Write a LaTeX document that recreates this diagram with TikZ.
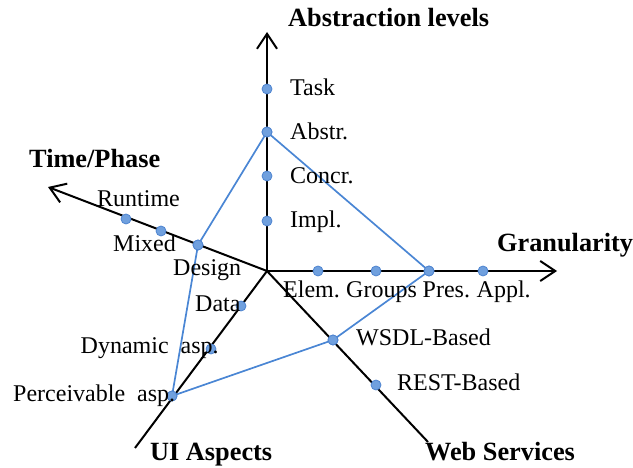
\documentclass[tikz,border=0pt]{standalone}
\usepackage{fontspec}
\setmainfont{Liberation Serif}
\usetikzlibrary{arrows.meta}
\definecolor{dotfill}{RGB}{112,160,222}
\definecolor{dotline}{RGB}{78,132,208}
\definecolor{polyline}{RGB}{74,134,212}
\tikzset{
  axis/.style={line width=2pt, black, -{Straight Barb[length=15pt,width=20pt,line width=2pt]}},
  pt/.style={circle, fill=dotfill, draw=dotline, line width=0.8pt, minimum size=10pt, inner sep=0pt},
  lbl/.style={anchor=base west, inner sep=0pt, font=\fontsize{24}{28}\selectfont},
  ttl/.style={anchor=base west, inner sep=0pt, font=\fontsize{26.3}{30}\selectfont\bfseries},
  poly/.style={polyline, line width=1.7pt}
}
\begin{document}
\begin{tikzpicture}[x=1pt,y=-1pt]
\useasboundingbox (0,0) rectangle (633,468);
\coordinate (O) at (267,271);
\coordinate (eUp) at (267,32);
\coordinate (eRight) at (557,271);
\coordinate (eTime) at (48,187);
\coordinate (eUI) at (135,448);
\coordinate (eWS) at (428,442);
% axes
\draw[axis] (O) -- (eUp);
\draw[axis] (O) -- (eRight);
\draw[axis] (O) -- (eTime);
\draw[line width=2pt] (O) -- (eUI);
\draw[line width=2pt] (O) -- (eWS);
% points
\node[pt] (task) at (267,89) {};
\node[pt] (abstr) at (267,132) {};
\node[pt] (concr) at (267,176) {};
\node[pt] (impl) at (267,221) {};
\node[pt] (elem) at (318,271) {};
\node[pt] (groups) at (376,271) {};
\node[pt] (pres) at (429,271) {};
\node[pt] (appl) at (483,271) {};
\node[pt] (runtime) at (126,219) {};
\node[pt] (mixed) at (161,231) {};
\node[pt] (design) at (198,245) {};
\node[pt] (data) at (241,306) {};
\node[pt] (dynamic) at (211,349) {};
\node[pt] (perc) at (172,396) {};
\node[pt] (wsdl) at (333,340) {};
\node[pt] (rest) at (376,385) {};
% polygon
\draw[poly] (abstr.center) -- (pres.center) -- (wsdl.center) -- (perc.center) -- (design.center) -- cycle;
\foreach \n in {abstr,pres,wsdl,perc,design}{\node[pt] at (\n) {};}
% labels
\node[lbl] (ltask) at (290,96) {Task};
\node[lbl] (labstr) at (290,140) {Abstr.};
\node[lbl] (lconcr) at (290,184) {Concr.};
\node[lbl] (limpl) at (290,228) {Impl.};
\node[lbl] (lrun) at (97,207) {Runtime};
\node[lbl] (lmix) at (113,252) {Mixed};
\node[lbl] (ldes) at (173,276) {Design};
\node[lbl] (lelem) at (283,298) {Elem.};
\node[lbl] (lgroups) at (346,298) {Groups};
\node[lbl] (lpres) at (422.5,298) {Pres.};
\node[lbl] (lappl) at (476.5,298) {Appl.};
\node[lbl] (ldata) at (195,312) {Data};
\node[lbl] (ldyn) at (80.5,353) {Dynamic\ \ asp.};
\node[lbl] (lperc) at (13,401) {Perceivable\ \ asp.};
\node[lbl] (lwsdl) at (356,346) {WSDL-Based};
\node[lbl] (lrest) at (397,391) {REST-Based};
% titles
\node[ttl] (tabs) at (288,27) {Abstraction levels};
\node[ttl] (ttime) at (29,168) {Time/Phase};
\node[ttl] (tgran) at (497,252) {Granularity};
\node[ttl] (tui) at (150,460) {UI Aspects};
\node[ttl] (tws) at (425,460) {Web Services};
\end{tikzpicture}
\end{document}
